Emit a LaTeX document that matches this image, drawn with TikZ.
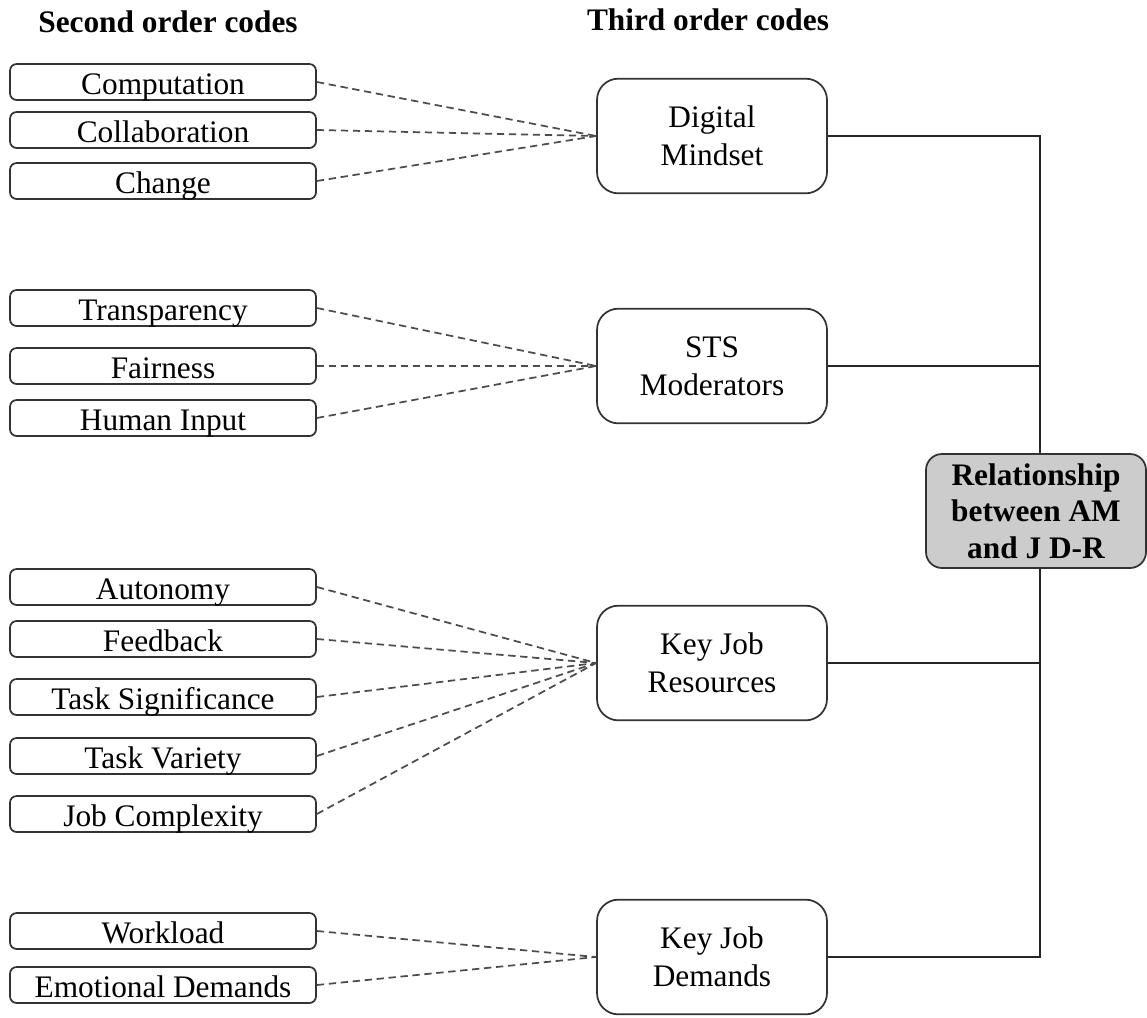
\documentclass[tikz,border=0pt]{standalone}
\usepackage{fontspec}
\setmainfont{Liberation Serif}
\usetikzlibrary{calc, positioning}

\begin{document}
\begin{tikzpicture}[
  x=0.75pt, y=-0.75pt,
  every node/.style={font=\fontsize{23.5}{28.5}\selectfont},
  code/.style={draw=black!80, line width=1.3pt, rounded corners=5pt, minimum width=229.5pt, minimum height=27pt, inner sep=0pt, text height=18pt, text depth=0pt},
  theme/.style={draw=black!80, line width=1.3pt, rounded corners=16pt, minimum width=172.5pt, minimum height=86pt, align=center, inner sep=0pt},
  core/.style={draw=black!80, line width=1.3pt, rounded corners=12pt, fill=black!20, minimum width=165pt, minimum height=85.5pt, align=center, inner sep=0pt, font=\fontsize{23.5}{27.5}\selectfont\bfseries},
  head/.style={anchor=base, font=\fontsize{23.5}{28.5}\selectfont\bfseries},
  dashlink/.style={dash pattern=on 5.5pt off 3.5pt, line width=1.3pt, draw=black!70},
  trunk/.style={line width=1.2pt, draw=black!85},
]
  \useasboundingbox (0,0) rectangle (1147,1018);

  \node[head] (second) at (168,32) {Second order codes};
  \node[head] (third) at (708,30) {Third order codes};

  \node[theme] (dm) at (712,136) {Digital\\Mindset};
  \node[theme] (sts) at (712,366) {STS\\Moderators};
  \node[theme] (kr) at (712,663) {Key Job\\Resources};
  \node[theme] (kd) at (712,957) {Key Job\\Demands};

  \foreach \n/\txt/\y/\t in {cp/Computation/82/dm, cl/Collaboration/130/dm, ch/Change/181/dm,
      tr/Transparency/308/sts, fa/Fairness/366/sts, hi/Human Input/418/sts,
      au/Autonomy/587/kr, fb/Feedback/639/kr, ts/Task Significance/697/kr,
      tv/Task Variety/756/kr, jc/Job Complexity/814/kr,
      wl/Workload/931/kd, ed/Emotional Demands/985/kd}
  {
    \node[code] (\n) at (163,\y) {\txt};
    \draw[dashlink] (\n.east) -- (\t.west);
  }

  \coordinate (spine) at (1040,511);
  \foreach \t in {dm,sts,kr,kd}
    \draw[trunk] (\t.east) -| (spine);

  \node[core] (rel) at (1036,511) {Relationship\\between AM\\and J D-R};
\end{tikzpicture}
\end{document}
